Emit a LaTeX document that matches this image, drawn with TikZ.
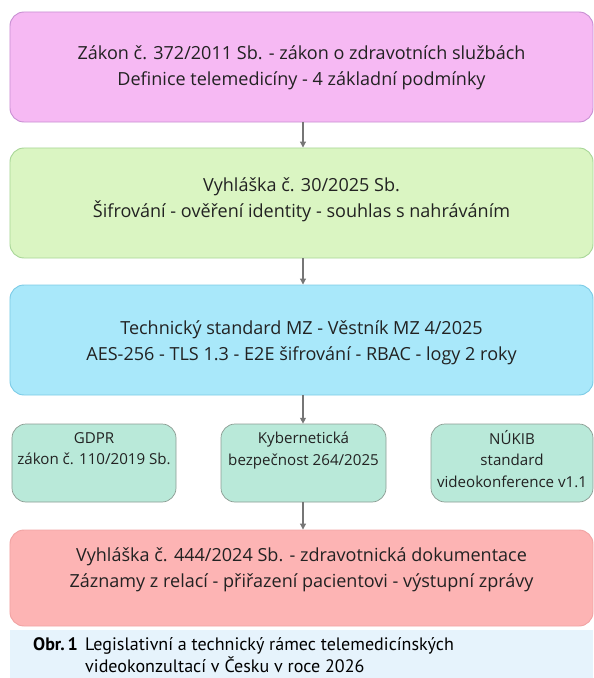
\documentclass[tikz,border=0pt]{standalone}
\usepackage{fontspec}
\setmainfont{Open Sans}
\newfontfamily\captfont{PT Sans}
\usetikzlibrary{arrows.meta}

\definecolor{pinkfill}{HTML}{F6B9F3}
\definecolor{pinkline}{HTML}{C88FD2}
\definecolor{greenfill}{HTML}{DAF5C2}
\definecolor{greenline}{HTML}{A8D697}
\definecolor{bluefill}{HTML}{A9E8FA}
\definecolor{blueline}{HTML}{7CCBE6}
\definecolor{mintfill}{HTML}{B9E9D9}
\definecolor{mintline}{HTML}{8C9C93}
\definecolor{redfill}{HTML}{FDB4B4}
\definecolor{redline}{HTML}{F1A3A3}
\definecolor{captband}{HTML}{E6F3FC}
\definecolor{arrowgray}{HTML}{767676}
\definecolor{textgray}{HTML}{222222}

\tikzset{
  bigbox/.style={draw, line width=0.8pt, rounded corners=12pt, minimum width=17.49cm, minimum height=3.3cm},
  smallbox/.style={draw=mintline, fill=mintfill, line width=0.6pt, rounded corners=12pt, minimum height=2.34cm},
  bigtext/.style={text=textgray, align=center, font=\fontsize{15.4}{22}\selectfont},
  smalltext/.style={text=textgray, align=center, font=\fontsize{12.9}{18.5}\selectfont, anchor=north},
  link/.style={draw=arrowgray, line width=0.9pt, -{Triangle[length=5pt,width=5pt]}}
}

\begin{document}
\begin{tikzpicture}[x=0.03cm,y=-0.03cm]
\useasboundingbox (0,0) rectangle (593,678);

% main blocks
\node[bigbox, draw=pinkline, fill=pinkfill] (zakon) at (301.5,67) {};
\node[bigtext] (zakontxt) at (301.5,68) {Zákon č. 372/2011 Sb. - zákon o zdravotních službách\\Definice telemedicíny - 4 základní podmínky};

\node[bigbox, draw=greenline, fill=greenfill] (vyhlaska) at (301.5,203) {};
\node[bigtext] (vyhlaskatxt) at (301.5,200) {Vyhláška č. 30/2025 Sb.\\Šifrování - ověření identity - souhlas s nahráváním};

\node[bigbox, draw=blueline, fill=bluefill] (standard) at (301.5,340) {};
\node[bigtext] (standardtxt) at (301.5,343) {Technický standard MZ - Věstník MZ 4/2025\\AES-256 - TLS 1.3 - E2E šifrování - RBAC - logy 2 roky};

% side rules
\node[smallbox, minimum width=4.92cm] (gdpr) at (94,463) {};
\node[smalltext] (gdprtxt) at (94,428) {GDPR\\zákon č. 110/2019 Sb.};

\node[smallbox, minimum width=4.95cm] (kyber) at (303.5,463) {};
\node[smalltext] (kybertxt) at (303.5,428) {Kybernetická\\bezpečnost 264/2025};

\node[smallbox, minimum width=4.86cm] (nukib) at (512,463) {};
\node[smalltext] (nukibtxt) at (512,426) {NÚKIB\\standard\\videokonference v1.1};

\node[bigbox, draw=redline, fill=redfill, minimum height=2.88cm] (dokum) at (301.5,578) {};
\node[bigtext] (dokumtxt) at (301.5,570) {Vyhláška č. 444/2024 Sb. - zdravotnická dokumentace\\Záznamy z relací - přiřazení pacientovi - výstupní zprávy};

% arrows
\draw[link] (zakon.south -| 303,0) -- (vyhlaska.north -| 303,0);
\draw[link] (vyhlaska.south -| 303,0) -- (standard.north -| 303,0);
\draw[link] (standard.south -| 303,0) -- (kyber.north -| 303,0);
\draw[link] (kyber.south -| 303,0) -- (dokum.north -| 303,0);

% caption
\fill[captband] (10,630) rectangle (593,678);
\node[anchor=north west, inner sep=0pt, font=\captfont\fontsize{15.4}{18.7}\selectfont\bfseries, text=black] (obr) at (33,637) {Obr.\,1};
\node[anchor=north west, inner sep=0pt, align=left, font=\captfont\fontsize{15.4}{18.7}\selectfont, text=black] (capt) at (85,637) {Legislativní a technický rámec telemedicínských\\videokonzultací v Česku v roce 2026};
\end{tikzpicture}
\end{document}
